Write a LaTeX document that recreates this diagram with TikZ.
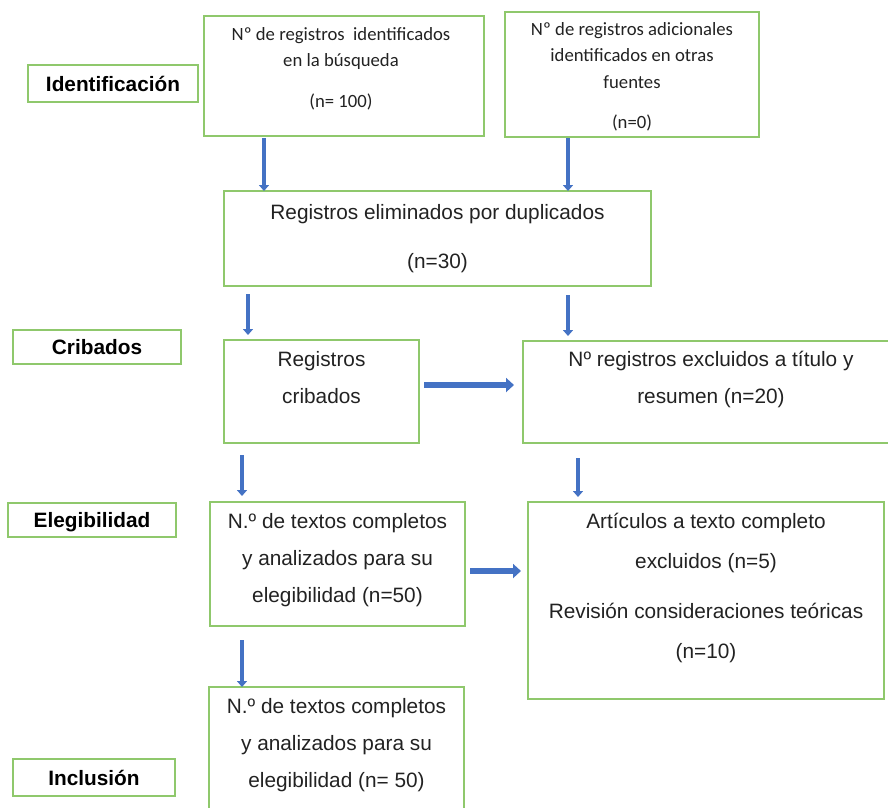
\documentclass[tikz,border=0pt]{standalone}
\usepackage{fontspec}
\setmainfont{Liberation Sans}
\newfontfamily\calibri{Carlito}
\usetikzlibrary{arrows.meta}
\definecolor{cVerde}{HTML}{8FC86C}
\definecolor{cAzul}{HTML}{4472C4}
\definecolor{cTexto}{HTML}{222222}

\begin{document}
\begin{tikzpicture}[x=1pt, y=-1pt,
    caja/.style={draw=cVerde, line width=1.3pt, anchor=north west, inner sep=0pt, outer sep=0pt},
    fase/.style={caja, font=\bfseries\fontsize{20.8}{24}\selectfont, text height=15pt, text depth=0pt},
    texto/.style={anchor=north, inner sep=0pt, align=center, text=cTexto, font=\fontsize{20.8}{37}\selectfont},
    textoC/.style={texto, font=\calibri\fontsize{18.7}{26.5}\selectfont},
    flecha/.style={cAzul, line width=4pt, -{Triangle[length=6pt,width=10pt]}},
    flechaH/.style={cAzul, line width=6pt, -{Triangle[length=8pt,width=14pt]}}]
  \useasboundingbox (0,0) rectangle (888,807);

  % fases
  \node[fase, minimum width=170pt, minimum height=37pt] (fIdent) at (28,65) {Identificación};
  \node[fase, minimum width=168pt, minimum height=34pt] (fCrib) at (13,330) {Cribados};
  \node[fase, minimum width=168pt, minimum height=34pt] (fEleg) at (8,503) {Elegibilidad};
  \node[fase, minimum width=162pt, minimum height=37pt] (fIncl) at (13,759) {Inclusión};

  % cajas
  \node[caja, minimum width=280pt, minimum height=120pt] (b1) at (204,16) {};
  \node[caja, minimum width=254pt, minimum height=125pt] (b2) at (505,12) {};
  \node[caja, minimum width=427pt, minimum height=95pt] (b3) at (224,191) {};
  \node[caja, minimum width=195pt, minimum height=103pt] (b4) at (224,340) {};
  \node[caja, minimum width=376pt, minimum height=102pt] (b5) at (523,341) {};
  \node[caja, minimum width=255pt, minimum height=124pt] (b6) at (210,502) {};
  \node[caja, minimum width=356pt, minimum height=197pt] (b7) at (528,502) {};
  \node[caja, minimum width=255pt, minimum height=130pt] (b8) at (209,687) {};

  \node[textoC] (t1) at ([xshift=-3pt,yshift=-11pt]b1.north)
    {Nº de registros\ \ identificados\\en la búsqueda\\[14pt](n= 100)};
  \node[textoC] (t2) at ([yshift=-10pt]b2.north)
    {Nº de registros adicionales\\identificados en otras\\fuentes\\[14pt](n=0)};
  \node[texto] (t3) at ([yshift=-13pt]b3.north) {Registros eliminados por duplicados\\[12pt](n=30)};
  \node[texto] (t4) at ([yshift=-11pt]b4.north) {Registros\\cribados};
  \node[texto] (t5) at ([yshift=-10pt]b5.north) {Nº registros excluidos a título y\\resumen (n=20)};
  \node[texto] (t6) at ([yshift=-11pt]b6.north)
    {N.º de textos completos\\y analizados para su\\elegibilidad (n=50)};
  \node[texto, font=\fontsize{20.8}{39.5}\selectfont] (t7) at ([yshift=-11pt]b7.north)
    {Artículos a texto completo\\excluidos (n=5)\\[11pt]Revisión consideraciones teóricas\\(n=10)};
  \node[texto] (t8) at ([yshift=-11pt]b8.north)
    {N.º de textos completos\\y analizados para su\\elegibilidad (n= 50)};

  % flechas
  \draw[flecha] ([xshift=60pt,yshift=-2pt]b1.south west) -- ([xshift=40pt]b3.north west);
  \draw[flecha] ([xshift=63pt,yshift=-1pt]b2.south west) -- ([xshift=-83pt]b3.north east);
  \draw[flecha] ([xshift=24pt,yshift=-8pt]b3.south west) -- ([xshift=24pt,yshift=5pt]b4.north west);
  \draw[flecha] ([xshift=-83pt,yshift=-9pt]b3.south east) -- ([xshift=45pt,yshift=5pt]b5.north west);
  \draw[flechaH] ([xshift=5pt,yshift=6.5pt]b4.east) -- ([xshift=-9pt,yshift=7pt]b5.west);
  \draw[flecha] ([xshift=18pt,yshift=-12pt]b4.south west) -- ([xshift=32pt,yshift=6pt]b6.north west);
  \draw[flecha] ([xshift=55pt,yshift=-15pt]b5.south west) -- ([xshift=50pt,yshift=5pt]b7.north west);
  \draw[flechaH] ([xshift=5pt,yshift=-7pt]b6.east) -- ([xshift=-7pt,yshift=29.5pt]b7.west);
  \draw[flecha] ([xshift=32pt,yshift=-14pt]b6.south west) -- ([xshift=33pt]b8.north west);
\end{tikzpicture}
\end{document}
